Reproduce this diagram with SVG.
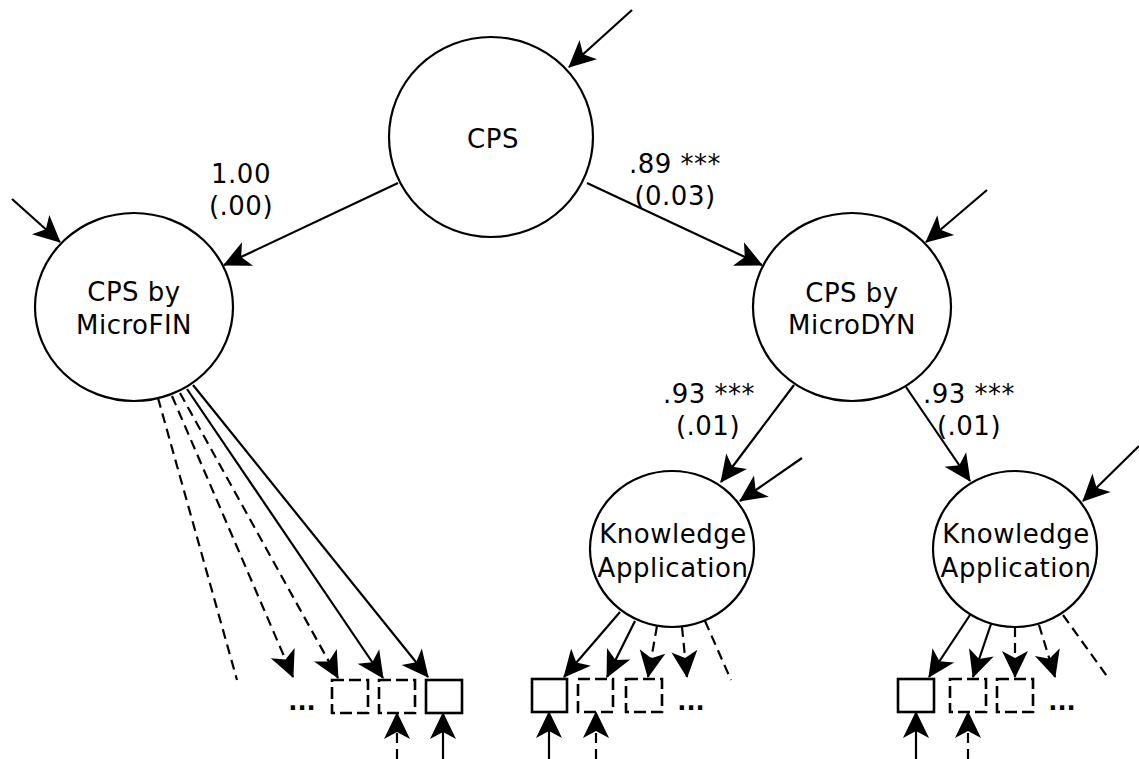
<svg xmlns="http://www.w3.org/2000/svg" width="1139" height="759" viewBox="0 0 1139 759">
  <style>
    text { font-family: "DejaVu Sans", "Liberation Sans", sans-serif; font-size: 26px; letter-spacing: 0.5px; fill: #000; text-anchor: middle; }
    .latent { fill: #fff; stroke: #000; stroke-width: 2.2; }
    .item { fill: #fff; stroke: #000; stroke-width: 2.6; }
    .item.dash { stroke-dasharray: 12 5; }
    .path { fill: none; stroke: #000; stroke-width: 2.2; }
    .arrow { marker-end: url(#head); }
    .dash { stroke-dasharray: 10 6; }
    .more { font-size: 24px; font-weight: bold; letter-spacing: 0; }
  </style>
  <defs>
    <marker id="head" viewBox="-30 -16 32 32" markerWidth="32" markerHeight="32" refX="0" refY="0" orient="auto" markerUnits="userSpaceOnUse">
      <path d="M1,0 L-26,-13 L-19,0 L-26,13 Z" fill="#000"/>
    </marker>
  </defs>

  <!-- structural paths, loadings and residual arrows -->
  <g id="connectors">
    <!-- residuals on latent factors -->
    <line class="path arrow" x1="632" y1="10" x2="569" y2="67"/>
    <line class="path arrow" x1="12" y1="199" x2="60" y2="242"/>
    <line class="path arrow" x1="987" y1="190" x2="926" y2="242"/>
    <line class="path arrow" x1="802" y1="458" x2="740" y2="501"/>
    <line class="path arrow" x1="1139" y1="446" x2="1083" y2="501"/>

    <!-- higher-order paths -->
    <line class="path arrow" x1="398" y1="183" x2="224" y2="265"/>
    <line class="path arrow" x1="587" y1="183" x2="762" y2="265"/>
    <line class="path arrow" x1="794" y1="385" x2="721" y2="482"/>
    <line class="path arrow" x1="906" y1="387" x2="970" y2="481"/>

    <!-- MicroFIN indicators -->
    <line class="path dash" x1="158" y1="398" x2="237" y2="680"/>
    <line class="path dash arrow" x1="172" y1="396" x2="293" y2="677"/>
    <line class="path dash arrow" x1="180" y1="393" x2="338" y2="678"/>
    <line class="path arrow" x1="187" y1="389" x2="383" y2="678"/>
    <line class="path arrow" x1="193" y1="385" x2="428" y2="677"/>

    <!-- Knowledge Application (left) indicators -->
    <line class="path arrow" x1="620" y1="612" x2="564" y2="677"/>
    <line class="path arrow" x1="635" y1="621" x2="607" y2="677"/>
    <line class="path dash arrow" x1="657" y1="626" x2="648" y2="677"/>
    <line class="path dash arrow" x1="682" y1="627" x2="687" y2="677"/>
    <line class="path dash" x1="705" y1="621" x2="731" y2="680"/>

    <!-- Knowledge Application (right) indicators -->
    <line class="path arrow" x1="970" y1="615" x2="929" y2="677"/>
    <line class="path arrow" x1="991" y1="624" x2="973" y2="677"/>
    <line class="path dash arrow" x1="1015" y1="627" x2="1015" y2="677"/>
    <line class="path dash arrow" x1="1039" y1="625" x2="1055" y2="677"/>
    <line class="path dash" x1="1063" y1="615" x2="1109" y2="679"/>

    <!-- indicator residuals -->
    <line class="path dash arrow" x1="397" y1="759" x2="397" y2="713"/>
    <line class="path arrow" x1="443" y1="759" x2="443" y2="713"/>
    <line class="path arrow" x1="549" y1="759" x2="549" y2="712"/>
    <line class="path dash arrow" x1="596" y1="759" x2="596" y2="712"/>
    <line class="path arrow" x1="916" y1="759" x2="916" y2="712"/>
    <line class="path dash arrow" x1="968" y1="759" x2="968" y2="712"/>
  </g>

  <!-- path coefficients -->
  <g id="labels">
    <text x="241" y="183">1.00</text>
    <text x="241" y="215">(.00)</text>
    <text x="675" y="173">.89 ***</text>
    <text x="675" y="205">(0.03)</text>
    <text x="709" y="403">.93 ***</text>
    <text x="708" y="435">(.01)</text>
    <text x="969" y="403">.93 ***</text>
    <text x="969" y="435">(.01)</text>
  </g>

  <g id="cps">
    <ellipse class="latent" cx="491" cy="137" rx="102" ry="100"/>
    <text x="493" y="148">CPS</text>
  </g>

  <g id="cps-microfin">
    <ellipse class="latent" cx="134" cy="307" rx="99" ry="94"/>
    <text x="134" y="301">CPS by</text>
    <text x="134" y="334">MicroFIN</text>
  </g>

  <g id="cps-microdyn">
    <ellipse class="latent" cx="852" cy="307" rx="99" ry="94"/>
    <text x="852" y="302">CPS by</text>
    <text x="852" y="334">MicroDYN</text>
  </g>

  <g id="ka-left">
    <ellipse class="latent" cx="672" cy="549" rx="82" ry="78"/>
    <text x="673" y="543">Knowledge</text>
    <text x="673" y="577">Application</text>
  </g>

  <g id="ka-right">
    <ellipse class="latent" cx="1015" cy="549" rx="82" ry="78"/>
    <text x="1016" y="543">Knowledge</text>
    <text x="1016" y="577">Application</text>
  </g>

  <!-- observed indicators -->
  <g id="microfin-items">
    <text class="more" x="302" y="710">...</text>
    <rect class="item dash" x="332" y="680" width="36" height="33"/>
    <rect class="item dash" x="379" y="680" width="36" height="33"/>
    <rect class="item" x="426" y="680" width="36" height="33"/>
  </g>

  <g id="ka-left-items">
    <rect class="item" x="532" y="679" width="35" height="33"/>
    <rect class="item dash" x="578" y="679" width="35" height="33"/>
    <rect class="item dash" x="626" y="679" width="36" height="33"/>
    <text class="more" x="691" y="710">...</text>
  </g>

  <g id="ka-right-items">
    <rect class="item" x="898" y="679" width="36" height="33"/>
    <rect class="item dash" x="950" y="679" width="36" height="33"/>
    <rect class="item dash" x="997" y="679" width="36" height="33"/>
    <text class="more" x="1062" y="710">...</text>
  </g>
</svg>
